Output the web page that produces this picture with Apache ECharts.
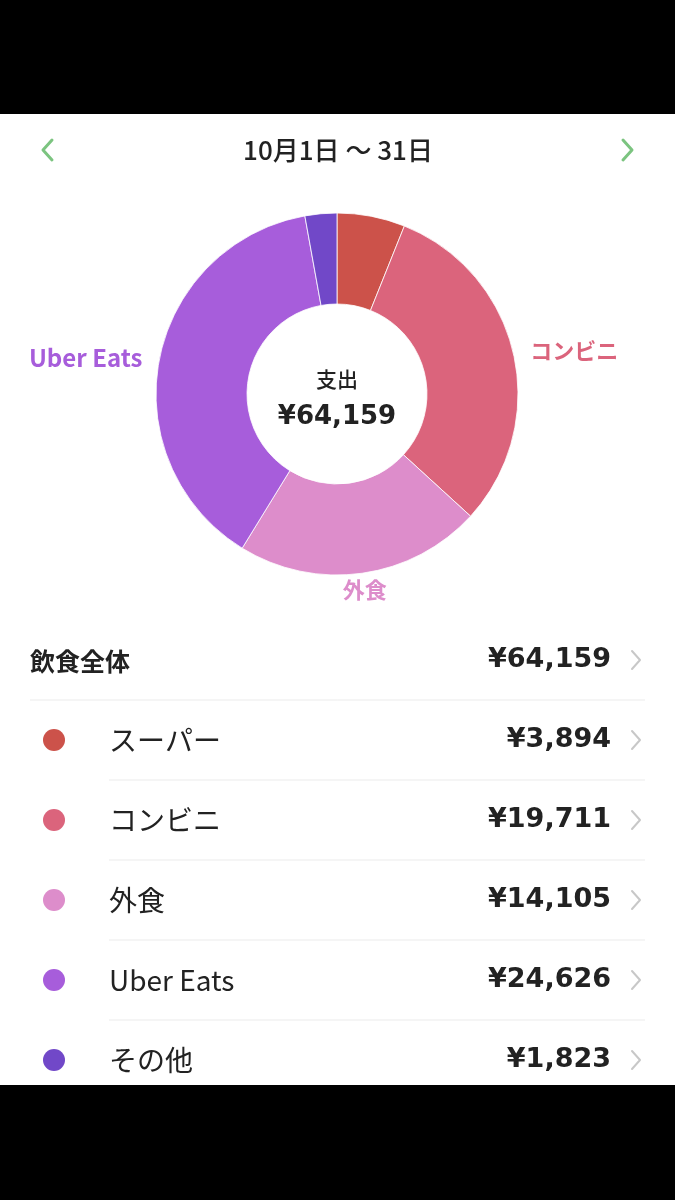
<!DOCTYPE html>
<html>
<head>
<meta charset="utf-8">
<script src="https://cdn.jsdelivr.net/npm/echarts@6/dist/echarts.min.js"></script>
<style>
  html, body { margin: 0; padding: 0; background: #fff; }
  #chart { width: 675px; height: 1200px; }
</style>
</head>
<body>
<div id="chart"></div>
<script>
// ---- data ----
const headerText = '10月1日 〜 31日';
const centerLabel = '支出';
const totalLabel = '飲食全体';
const categories = ['スーパー', 'コンビニ', '外食', 'Uber Eats', 'その他'];
const values = [3894, 19711, 14105, 24626, 1823];
const sliceColors = ['#cc524a', '#db647c', '#dd8dcb', '#a75ddb', '#7148c8'];
const showSliceLabel = [false, true, true, true, false];

// ---- helpers ----
const yen = v => '¥' + v.toLocaleString('en-US');
const total = values.reduce((a, b) => a + b, 0);

const W = 675, H = 1200;
const cx = 337, cy = 394;
const JP = '"Noto Sans CJK JP", "Noto Sans", sans-serif';
const NUM = '"DejaVu Sans", "Noto Sans", sans-serif';
const txt = '#222222';

const graphics = [];
// black bars (phone screenshot frame)
graphics.push({ type: 'rect', left: 0, top: 0, shape: { width: W, height: 114 }, style: { fill: '#000' }, silent: true });
graphics.push({ type: 'rect', left: 0, top: 1085, shape: { width: W, height: 115 }, style: { fill: '#000' }, silent: true });

// header
graphics.push({ type: 'text', x: 338, y: 150, style: { text: headerText, font: '500 26px ' + JP, fill: txt, align: 'center', verticalAlign: 'middle' } });
graphics.push({ type: 'polyline', shape: { points: [[52, 140], [43, 150], [52, 160]] }, style: { stroke: '#7cc480', lineWidth: 3, fill: null, lineCap: 'round', lineJoin: 'round' } });
graphics.push({ type: 'polyline', shape: { points: [[623, 140], [632, 150], [623, 160]] }, style: { stroke: '#7cc480', lineWidth: 3, fill: null, lineCap: 'round', lineJoin: 'round' } });

// donut center
graphics.push({ type: 'text', x: cx, y: 379, style: { text: centerLabel, font: '500 21px ' + JP, fill: txt, align: 'center', verticalAlign: 'middle' } });
graphics.push({ type: 'text', x: cx, y: 417, style: { text: yen(total), font: 'bold 26px ' + NUM, fill: txt, align: 'center', verticalAlign: 'middle' } });

function chevron(y) {
  return { type: 'polyline', shape: { points: [[632, y - 9], [640, y], [632, y + 9]] }, style: { stroke: '#c8c8c8', lineWidth: 2, fill: null, lineCap: 'round', lineJoin: 'round' } };
}

// total row
graphics.push({ type: 'text', x: 30, y: 661, style: { text: totalLabel, font: 'bold 25px ' + JP, fill: txt, align: 'left', verticalAlign: 'middle' } });
graphics.push({ type: 'text', x: 611, y: 660, style: { text: yen(total), font: 'bold 27px ' + NUM, fill: txt, align: 'right', verticalAlign: 'middle' } });
graphics.push(chevron(660));
graphics.push({ type: 'line', shape: { x1: 30, y1: 700, x2: 645, y2: 700 }, style: { stroke: '#ebebeb', lineWidth: 1 } });

// category rows
categories.forEach((name, i) => {
  const y = 740 + i * 80;
  graphics.push({ type: 'circle', shape: { cx: 54, cy: y, r: 11 }, style: { fill: sliceColors[i] } });
  graphics.push({ type: 'text', x: 109, y: y, style: { text: name, font: '400 28px ' + JP, fill: txt, align: 'left', verticalAlign: 'middle' } });
  graphics.push({ type: 'text', x: 611, y: y, style: { text: yen(values[i]), font: 'bold 27px ' + NUM, fill: txt, align: 'right', verticalAlign: 'middle' } });
  graphics.push(chevron(y));
  if (i < categories.length - 1) {
    graphics.push({ type: 'line', shape: { x1: 109, y1: y + 40, x2: 645, y2: y + 40 }, style: { stroke: '#ebebeb', lineWidth: 1 } });
  }
});

const chart = echarts.init(document.getElementById('chart'), null, { renderer: 'canvas', width: W, height: H });
chart.setOption({
  backgroundColor: '#ffffff',
  animation: false,
  graphic: graphics,
  series: [{
    type: 'pie',
    center: [cx, cy],
    radius: [90, 181],
    startAngle: 90,
    clockwise: true,
    avoidLabelOverlap: false,
    silent: true,
    itemStyle: { borderColor: '#ffffff', borderWidth: 0.8 },
    label: {
      position: 'outside',
      formatter: '{b}',
      fontFamily: JP,
      fontWeight: 'bold',
      fontSize: 22
    },
    labelLine: { show: false, length: 12, length2: 0 },
    labelLayout: function (p) {
      if (p.dataIndex === 2) return { align: 'center', dx: -4, dy: 5 };
      return {};
    },
    data: categories.map((name, i) => ({
      name: name,
      value: values[i],
      itemStyle: { color: sliceColors[i] },
      label: { show: showSliceLabel[i], color: sliceColors[i], fontSize: name === 'Uber Eats' ? 24 : 22 }
    }))
  }]
});
</script>
</body>
</html>
